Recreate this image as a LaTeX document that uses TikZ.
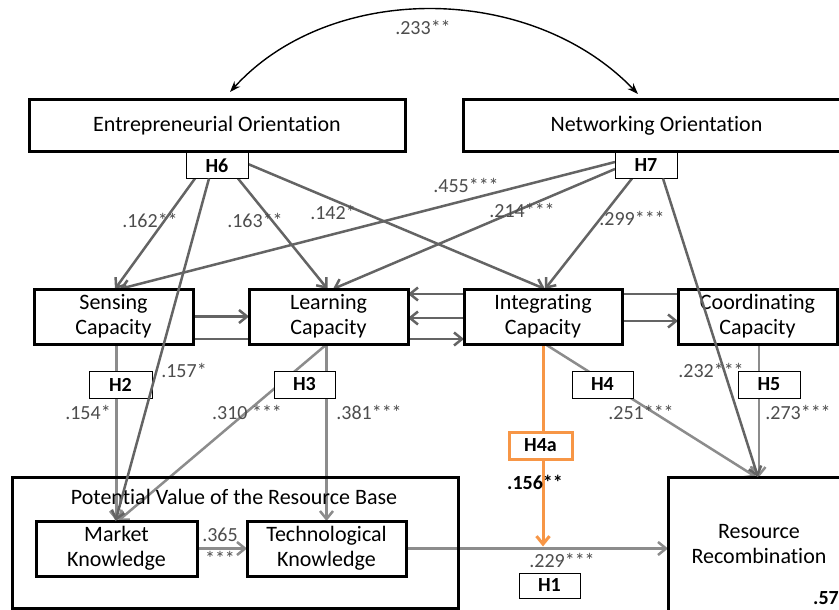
\documentclass[tikz,border=0pt]{standalone}
\usepackage{fontspec}
\setmainfont{Carlito}[Ligatures={NoCommon}]
\usetikzlibrary{arrows.meta,calc}
\pgfdeclarelayer{wires}
\pgfdeclarelayer{over}
\pgfsetlayers{wires,main,over}

\definecolor{wiredark}{HTML}{646464}
\definecolor{wirelight}{HTML}{8C8C8C}
\definecolor{hilite}{HTML}{F79646}
\definecolor{coef}{HTML}{4D4D4D}

\tikzset{
  construct/.style={draw=black, line width=3pt, fill=white, inner sep=0pt, outer sep=0pt,
    align=center, font=\fontsize{22}{25}\selectfont},
  hyp/.style={draw=black, line width=0.9pt, fill=white, inner sep=0pt, outer sep=0pt,
    minimum width=62pt, minimum height=26pt, font=\fontsize{20}{24}\selectfont\bfseries},
  coefl/.style={text=coef, inner sep=0pt, font=\fontsize{20}{24}\selectfont},
  coefb/.style={text=black, inner sep=0pt, font=\fontsize{20}{24}\selectfont\bfseries},
  linkdark/.style={draw=wiredark, line width=2.5pt, -{Straight Barb[length=8pt,width=13pt]}},
  linklight/.style={draw=wirelight, line width=2.5pt, -{Straight Barb[length=8pt,width=13pt]}},
  linkhot/.style={draw=hilite, line width=3pt, -{Straight Barb[length=8pt,width=13pt]}},
}

\begin{document}
\begin{tikzpicture}[x=1pt,y=-1pt]
\useasboundingbox (0,0) rectangle (839,610);
\begin{pgfonlayer}{wires}
  \fill[white] (0,0) rectangle (839,610);
\end{pgfonlayer}

% orientations
\node[construct, minimum width=376pt, minimum height=51pt] (EO) at (217,125.5) {Entrepreneurial Orientation};
\node[construct, minimum width=387pt, minimum height=51pt] (NO) at (656.5,125.5) {Networking Orientation};

% capacities
\node[construct, minimum width=159pt, minimum height=55pt] (Sensing) at (113.5,316.5) {Sensing\\Capacity};
\node[construct, minimum width=159pt, minimum height=55pt] (Learning) at (328.5,316.5) {Learning\\Capacity};
\node[construct, minimum width=158pt, minimum height=55pt] (Integrating) at (543,316.5) {Integrating\\Capacity};
\node[construct, minimum width=159pt, minimum height=55pt] (Coordinating) at (757.5,316.5) {Coordinating\\Capacity};

% resource base (open frame around the two knowledge boxes)
\node[construct, fill=none, minimum width=446pt, minimum height=131pt] (PV) at (235,542.5) {};
\node[font=\fontsize{22}{25}\selectfont, inner sep=0pt] (PVtitle) at (234,497) {Potential Value of the Resource Base};
\node[construct, minimum width=161pt, minimum height=55pt] (Market) at (116.5,548.5) {Market\\Knowledge};
\node[construct, minimum width=159pt, minimum height=55pt] (Tech) at (326.5,548.5) {Technological\\Knowledge};

% outcome
\node[construct, minimum width=182pt, minimum height=135pt] (RR) at (759,544.5) {Resource\\Recombination};
\node[coefb, anchor=west] (R2) at (813,598) {.57};

% hypothesis tags
\node[hyp] (H6) at (217,165.5) {H6};
\node[hyp] (H7) at (646,165.5) {H7};
\node[hyp, minimum width=63pt, minimum height=27pt] (H2) at (120.5,384.5) {H2};
\node[hyp, minimum width=61pt, minimum height=27pt] (H3) at (304.5,384.5) {H3};
\node[hyp, minimum width=61pt, minimum height=27pt] (H4) at (602.5,384.5) {H4};
\node[hyp, minimum width=62pt, minimum height=27pt] (H5) at (769,384.5) {H5};
\node[hyp, draw=hilite, line width=3pt, minimum width=63pt, minimum height=27pt] (H4a) at (540.5,445.5) {H4a};
\node[hyp, minimum width=61pt, minimum height=25pt] (H1) at (549.5,585.5) {H1};

\begin{pgfonlayer}{wires}
  % correlation of the orientations
  \draw[line width=1.4pt, {Stealth[length=11pt,width=8pt]}-{Stealth[length=11pt,width=8pt]}]
    ($(EO.north)+(13,-8)$) .. controls (330,-18) and (530,-18) .. ($(NO.north)+(-18.5,-6)$);

  % entrepreneurial orientation effects
  \draw[linkdark] ($(H6.south)+(-22,0)$) -- ($(Sensing.north)+(1.5,0)$);
  \draw[linkdark] ($(H6.south)+(21,0)$) -- ($(Learning.north)+(-1,0)$);
  \draw[linkdark] ($(H6.east)+(0,-1.5)$) -- ($(Integrating.north)+(2,0)$);

  % networking orientation effects
  \draw[linkdark] ($(H7.west)+(0,-3.5)$) -- ($(Sensing.north)+(6,0)$);
  \draw[linkdark] ($(H7.west)+(0,3.5)$) -- ($(Learning.north)+(4.5,0)$);
  \draw[linkdark] ($(H7.south)+(-14,0)$) -- ($(Integrating.north)+(2,0)$);

  % links among the capacities
  \draw[linkdark] (Sensing.east) -- (Learning.west);
  \draw[linkdark] ($(Sensing.east)+(0,22.5)$) -- ($(Integrating.west)+(0,22.5)$);
  \draw[linkdark] ($(Coordinating.west)+(0,-22.5)$) -- ($(Learning.east)+(0,-22.5)$);
  \draw[linkdark] ($(Integrating.west)+(0,1.5)$) -- ($(Learning.east)+(0,1.5)$);
  \draw[linkdark] ($(Integrating.east)+(0,4.5)$) -- ($(Coordinating.west)+(0,4.5)$);

  % capacities to resource base and recombination
  \draw[linklight] (Market.north |- Sensing.south) -- (Market.north);
  \draw[linklight] (Tech.north |- Learning.south) -- (Tech.north);
  \draw[linklight] ($(Learning.south)+(-1.5,0)$) -- ($(Market.north)+(1.5,0)$);
  \draw[linklight] ($(Integrating.south)+(2,0)$) -- ($(RR.north)+(-3,0)$);
  \draw[linklight] (RR.north |- Coordinating.south) -- (RR.north);
  \draw[linklight] (Market.east) -- (Tech.west);
  \draw[linklight] (Tech.east) -- (Tech.east -| RR.west);

  % moderation
  \coordinate (modpt) at (Integrating.south |- Tech.east);
  \draw[linkhot, shorten >=2pt] (Integrating.south) -- (modpt);
\end{pgfonlayer}

\begin{pgfonlayer}{over}
  \draw[linkdark] ($(H6.south)+(-8,0)$) -- ($(Market.north)+(-1,0)$);
  \draw[linkdark] ($(H7.south)+(17,0)$) -- ($(RR.north)+(-1,0)$);
\end{pgfonlayer}

% path coefficients
\node[coefl] (c233) at (423,27) {.233**};
\node[coefl] (c162) at (150,220) {.162**};
\node[coefl] (c163) at (255,220) {.163**};
\node[coefl] (c142) at (333,212) {.142*};
\node[coefl] (c455) at (466,185) {.455***};
\node[coefl] (c214) at (522,210) {.214***};
\node[coefl] (c299) at (632,218) {.299***};
\node[coefl] (c157) at (184,370) {.157*};
\node[coefl] (c154) at (88,412) {.154*};
\node[coefl] (c310) at (247,412) {.310 ***};
\node[coefl] (c381) at (369,412) {.381***};
\node[coefl] (c365) at (220,535) {.365};
\node[coefl] (c365s) at (220,558) {***};
\node[coefl] (c232) at (711,370) {.232***};
\node[coefl] (c251) at (641,412) {.251***};
\node[coefl] (c273) at (798,412) {.273***};
\node[coefb] (c156) at (535,482) {.156**};
\node[coefl] (c229) at (562,560) {.229***};
\end{tikzpicture}
\end{document}
